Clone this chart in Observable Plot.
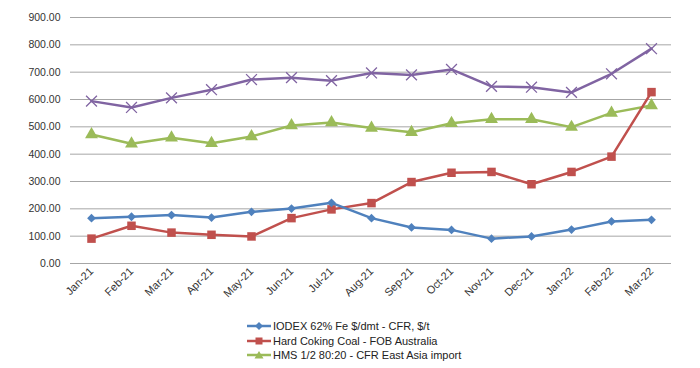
<!DOCTYPE html>
<html>
<head>
<meta charset="utf-8">
<script src="https://cdn.jsdelivr.net/npm/d3@7"></script>
<script src="https://cdn.jsdelivr.net/npm/@observablehq/plot@0.6"></script>
<style>
  body { margin: 0; background: #fff; font-family: "Liberation Sans", Arial, sans-serif; }
  #wrap { position: relative; width: 700px; height: 368px; }
  #legend { position: absolute; left: 247px; top: 319px; font-size: 11px; color: #222; }
  .row { display: flex; align-items: center; height: 14.5px; }
  .row svg { margin-right: 1px; }
</style>
</head>
<body>
<div id="wrap">
  <div id="chart"></div>
  <div id="legend"></div>
</div>
<script>
const months = ["Jan-21","Feb-21","Mar-21","Apr-21","May-21","Jun-21","Jul-21","Aug-21","Sep-21","Oct-21","Nov-21","Dec-21","Jan-22","Feb-22","Mar-22"];
const iodex = [166, 171, 177, 168, 189, 201, 222, 166, 132, 123, 91, 99, 124, 154, 160];
const coal  = [91, 138, 113, 105, 99, 166, 198, 221, 298, 332, 335, 290, 335, 391, 627];
const hms   = [472, 438, 460, 440, 465, 505, 516, 496, 480, 513, 528, 528, 499, 551, 578];
const other = [594, 571, 606, 636, 673, 680, 669, 697, 690, 710, 648, 645, 626, 694, 786];
const yTicks = [0, 100, 200, 300, 400, 500, 600, 700, 800, 900];

const seriesNames = ["IODEX 62% Fe $/dmt - CFR, $/t", "Hard Coking Coal - FOB Australia", "HMS 1/2 80:20 - CFR East Asia import", "Other"];
const seriesColors = ["#4F81BD", "#C0504D", "#9BBB59", "#8064A2"];
const seriesSymbols = ["diamond", "square", "triangle", "times"];
const seriesValues = [iodex, coal, hms, other];

const tables = seriesValues.map(vals => months.map((m, i) => ({month: m, value: vals[i]})));

const squareDiamond = {
  draw(ctx, size) {
    const r = Math.sqrt(size / 2);
    ctx.moveTo(0, -r); ctx.lineTo(r, 0); ctx.lineTo(0, r); ctx.lineTo(-r, 0); ctx.closePath();
  }
};

const marks = [
  Plot.gridY(yTicks, {stroke: "#a6a6a6", strokeOpacity: 1, strokeWidth: 1}),
  Plot.axisY(yTicks, {tickSize: 0, tickFormat: d3.format(".2f"), fontSize: 10.5, tickPadding: 10, color: "#333"}),
  Plot.axisX({tickSize: 0, tickRotate: -45, fontSize: 11, tickPadding: 6, color: "#333"})
];
[3, 2, 1, 0].forEach(k => {
  marks.push(Plot.line(tables[k], {x: "month", y: "value", stroke: seriesColors[k], strokeWidth: 2.5}));
  const sym = seriesSymbols[k];
  if (sym === "times") {
    marks.push(Plot.dot(tables[k], {x: "month", y: "value", symbol: "times", stroke: seriesColors[k], strokeWidth: 1.3, r: 5}));
  } else if (sym === "diamond") {
    marks.push(Plot.dot(tables[k], {x: "month", y: "value", symbol: squareDiamond, fill: seriesColors[k], stroke: "none", r: 3.5}));
  } else {
    marks.push(Plot.dot(tables[k], {x: "month", y: "value", symbol: sym, fill: seriesColors[k], stroke: "none", r: sym === "square" ? 4.8 : 4.8}));
  }
});

const chart = Plot.plot({
  width: 700,
  height: 315,
  marginTop: 17,
  marginBottom: 52,
  marginLeft: 70,
  marginRight: 29,
  style: {fontFamily: "'Liberation Sans', Arial, sans-serif", background: "#fff"},
  x: {type: "point", domain: months, padding: 0.5, label: null},
  y: {domain: [0, 900], label: null},
  marks
});
document.getElementById("chart").appendChild(chart);

const legend = document.getElementById("legend");
[0, 1, 2].forEach(k => {
  const row = document.createElement("div");
  row.className = "row";
  let marker;
  if (seriesSymbols[k] === "diamond") marker = `<path d="M12,2 L16,6 L12,10 L8,6 Z" fill="${seriesColors[k]}"/>`;
  else if (seriesSymbols[k] === "square") marker = `<rect x="8.5" y="2.5" width="7" height="7" fill="${seriesColors[k]}"/>`;
  else marker = `<path d="M12,2 L16.5,9.5 L7.5,9.5 Z" fill="${seriesColors[k]}"/>`;
  row.innerHTML = `<svg width="25" height="12"><line x1="0" y1="6" x2="24" y2="6" stroke="${seriesColors[k]}" stroke-width="2.5"/>${marker}</svg><span>${seriesNames[k]}</span>`;
  legend.appendChild(row);
});
</script>
</body>
</html>
